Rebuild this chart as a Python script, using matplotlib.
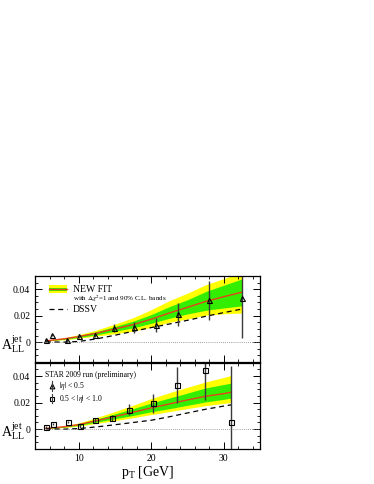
import matplotlib
matplotlib.use("Agg")
import matplotlib.pyplot as plt
from matplotlib.patches import Rectangle
from matplotlib.lines import Line2D
from matplotlib.ticker import MultipleLocator

plt.rcParams["font.family"] = ["Liberation Serif", "DejaVu Serif"]
plt.rcParams["mathtext.fontset"] = "stix"

# |eta| < 0.5 (triangles, upper panel)
tri_x = [5.5, 6.4, 8.35, 10.1, 12.3, 14.9, 17.6, 20.7, 23.7, 27.9, 32.5]
tri_y = [0.0018, 0.0056, 0.0013, 0.0046, 0.0053, 0.0107, 0.0112, 0.0132, 0.0210, 0.0315, 0.0330]
tri_err = [0.0008, 0.0009, 0.0010, 0.0012, 0.0015, 0.0028, 0.0040, 0.0053, 0.0087, 0.0150, 0.0300]

# 0.5 < |eta| < 1.0 (squares, lower panel)
sq_x = [5.5, 6.5, 8.5, 10.15, 12.3, 14.65, 17.0, 20.25, 23.5, 27.4, 31.0]
sq_y = [0.0013, 0.0040, 0.0054, 0.0023, 0.0069, 0.0084, 0.0145, 0.0194, 0.0330, 0.0446, 0.0054]
sq_err = [0.0008, 0.0009, 0.0010, 0.0012, 0.0016, 0.0025, 0.0042, 0.0070, 0.0135, 0.0225, 0.0420]

# new fit, upper panel
fit1_x = [5.5, 8, 10, 12.5, 15, 17.5, 20, 22.5, 25, 27.5, 30, 32.5]
fit1 = [0.0010, 0.0025, 0.0042, 0.0068, 0.0100, 0.0132, 0.0173, 0.0220, 0.0263, 0.0307, 0.0343, 0.0377]
g1_lo = [0.0009, 0.0021, 0.0035, 0.0056, 0.0082, 0.0108, 0.0142, 0.0180, 0.0213, 0.0240, 0.0258, 0.0274]
g1_hi = [0.0011, 0.0029, 0.0049, 0.0080, 0.0118, 0.0158, 0.0208, 0.0268, 0.0320, 0.0382, 0.0430, 0.0477]
y1_lo = [0.0008, 0.0018, 0.0030, 0.0046, 0.0064, 0.0083, 0.0112, 0.0150, 0.0175, 0.0203, 0.0214, 0.0220]
y1_hi = [0.0012, 0.0033, 0.0056, 0.0092, 0.0136, 0.0184, 0.0245, 0.0313, 0.0370, 0.0433, 0.0480, 0.0525]
dssv1 = [0.0002, 0.0000, 0.0005, 0.0025, 0.0052, 0.0082, 0.0110, 0.0137, 0.0165, 0.0195, 0.0223, 0.0250]

# new fit, lower panel
fit2_x = [5.5, 8, 10, 12.5, 15, 17.5, 20, 22.5, 25, 27.5, 30, 31]
fit2 = [0.0005, 0.0018, 0.0034, 0.0064, 0.0095, 0.0127, 0.0160, 0.0190, 0.0220, 0.0248, 0.0268, 0.0278]
g2_lo = [0.0004, 0.0015, 0.0028, 0.0053, 0.0078, 0.0103, 0.0131, 0.0154, 0.0180, 0.0205, 0.0225, 0.0234]
g2_hi = [0.0006, 0.0021, 0.0040, 0.0076, 0.0115, 0.0155, 0.0196, 0.0235, 0.0272, 0.0311, 0.0337, 0.0347]
y2_lo = [0.0003, 0.0012, 0.0023, 0.0043, 0.0064, 0.0086, 0.0110, 0.0132, 0.0155, 0.0177, 0.0194, 0.0201]
y2_hi = [0.0007, 0.0024, 0.0046, 0.0088, 0.0133, 0.0180, 0.0230, 0.0275, 0.0316, 0.0356, 0.0390, 0.0405]
dssv2 = [0.0002, 0.0000, 0.0004, 0.0017, 0.0033, 0.0050, 0.0067, 0.0093, 0.0122, 0.0150, 0.0174, 0.0183]

YELLOW = "#ffff00"
GREEN = "#33ee00"
RED = "#e8401c"

fig = plt.figure(figsize=(3.74, 4.84), dpi=100)
ax1 = fig.add_axes([0.0936, 0.252, 0.602, 0.178])
ax2 = fig.add_axes([0.0936, 0.0723, 0.602, 0.178])


def panel(ax, fx, fc, glo, ghi, ylo, yhi, dssv, px, py, perr, marker):
    ax.fill_between(fx, ylo, yhi, color=YELLOW, lw=0)
    ax.fill_between(fx, glo, ghi, color=GREEN, lw=0)
    ax.plot(fx, fc, color=RED, lw=1.0)
    ax.plot(fx, dssv, color="black", lw=0.9, ls=(0, (4, 3)))
    ax.axhline(0, color="gray", lw=0.6, ls=(0, (1, 1.5)))
    ax.errorbar(px, py, yerr=perr, fmt="none", ecolor="#3a3a3a", elinewidth=1.0, capsize=0)
    ax.plot(px, py, ls="none", marker=marker, ms=3.6, mfc="none", mec="black", mew=0.8)
    ax.set_xlim(4, 35)
    ax.set_ylim(-0.015, 0.05)
    ax.xaxis.set_major_locator(MultipleLocator(10))
    ax.xaxis.set_minor_locator(MultipleLocator(2))
    ax.yaxis.set_major_locator(MultipleLocator(0.02))
    ax.yaxis.set_minor_locator(MultipleLocator(0.005))
    ax.tick_params(which="both", direction="in", top=True, right=True, labelsize=7)
    ax.tick_params(which="major", length=5, width=0.7)
    ax.tick_params(which="minor", length=2.5, width=0.6)
    ax.set_yticks([0, 0.02, 0.04])
    ax.set_yticklabels(["0", "0.02", "0.04"])
    for s in ax.spines.values():
        s.set_linewidth(0.9)
    ax.text(-0.152, 0.21, r"$\mathregular{A_{LL}^{jet}}$", transform=ax.transAxes,
            fontsize=10, ha="left", va="center")


panel(ax1, fit1_x, fit1, g1_lo, g1_hi, y1_lo, y1_hi, dssv1, tri_x, tri_y, tri_err, "^")
panel(ax2, fit2_x, fit2, g2_lo, g2_hi, y2_lo, y2_hi, dssv2, sq_x, sq_y, sq_err, "s")
ax1.set_xticklabels([])
ax2.set_xlabel(r"$\mathregular{p_T}$ [GeV]", fontsize=10, labelpad=1)

# legend, upper panel
t = ax1.transAxes
ax1.add_patch(Rectangle((0.062, 0.80), 0.082, 0.09, transform=t, color=YELLOW, lw=0))
ax1.add_patch(Rectangle((0.062, 0.825), 0.082, 0.04, transform=t, color=GREEN, lw=0))
ax1.add_line(Line2D([0.062, 0.144], [0.845, 0.845], transform=t, color=RED, lw=1.0))
ax1.text(0.168, 0.845, "NEW FIT", transform=t, fontsize=7, va="center")
ax1.text(0.168, 0.74, r"with $\Delta\chi^2$=1 and 90% C.L. bands", transform=t, fontsize=5, va="center")
ax1.add_line(Line2D([0.062, 0.144], [0.615, 0.615], transform=t, color="black", lw=0.9, ls=(0, (4, 3))))
ax1.text(0.168, 0.615, "DSSV", transform=t, fontsize=7, va="center")

# legend, lower panel
t2 = ax2.transAxes
ax2.text(0.045, 0.86, "STAR 2009 run (preliminary)", transform=t2, fontsize=5.5, va="center")
ax2.plot([0.075], [0.73], transform=t2, marker="^", ms=3.4, mfc="none", mec="black", mew=0.8, ls="none")
ax2.add_line(Line2D([0.075, 0.075], [0.67, 0.79], transform=t2, color="#3a3a3a", lw=0.8))
ax2.text(0.105, 0.73, r"$|\eta|$ < 0.5", transform=t2, fontsize=5.5, va="center")
ax2.plot([0.075], [0.585], transform=t2, marker="s", ms=3.4, mfc="none", mec="black", mew=0.8, ls="none")
ax2.add_line(Line2D([0.075, 0.075], [0.53, 0.64], transform=t2, color="#3a3a3a", lw=0.8))
ax2.text(0.105, 0.585, r"0.5 < $|\eta|$ < 1.0", transform=t2, fontsize=5.5, va="center")

fig.savefig("out.png", dpi=100)
